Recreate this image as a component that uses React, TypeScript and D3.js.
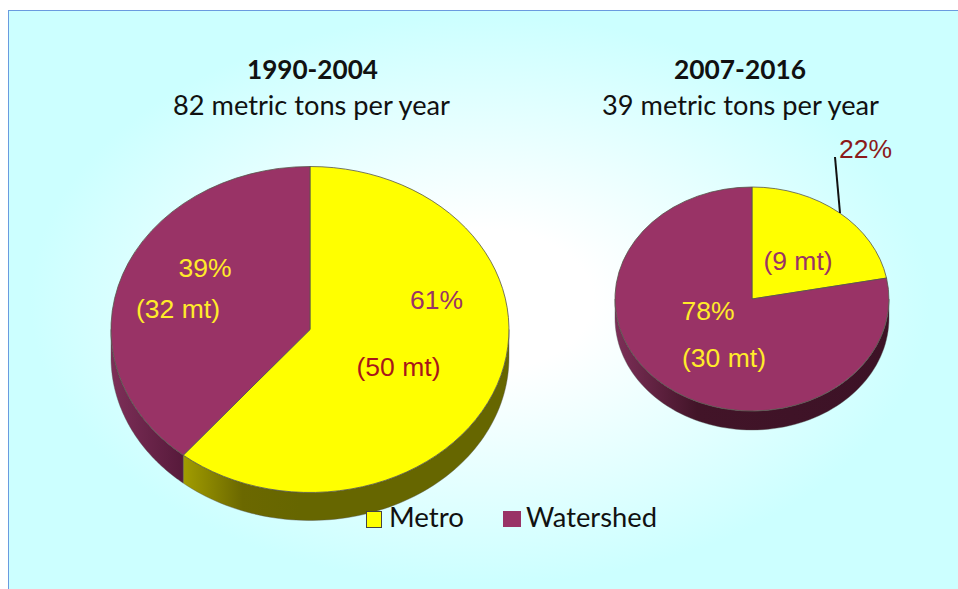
import React from "react";
import * as d3 from "d3";

const categories = ["Metro", "Watershed"];
const colors = ["#ffff00", "#993366"];
const period1Values = [61, 39];
const period2Values = [22, 78];
const titles = ["1990-2004", "2007-2016"];
const subtitles = ["82 metric tons per year", "39 metric tons per year"];

type Pie = { cx: number; cy: number; rx: number; ry: number; depth: number; values: number[]; id: string };
const pies: Pie[] = [
  { id: "a", cx: 310, cy: 329.5, rx: 199, ry: 163, depth: 28, values: period1Values },
  { id: "b", cx: 752, cy: 299, rx: 137, ry: 112, depth: 19, values: period2Values },
];

const layout = d3.pie<number>().sort(null).startAngle(0).endAngle(2 * Math.PI);

function wallPath(p: Pie, a0: number, a1: number): string | null {
  const s = Math.max(a0, Math.PI / 2);
  const e = Math.min(a1, (3 * Math.PI) / 2);
  if (e <= s) return null;
  const n = 80;
  const angles = d3.range(n + 1).map((i) => s + ((e - s) * i) / n);
  const top: [number, number][] = angles.map((t) => [p.cx + p.rx * Math.sin(t), p.cy - p.ry * Math.cos(t)]);
  const bottom: [number, number][] = angles
    .slice()
    .reverse()
    .map((t) => [p.cx + p.rx * Math.sin(t), p.cy - p.ry * Math.cos(t) + p.depth]);
  return (d3.line()([...top, ...bottom]) || "") + "Z";
}

function PieChart({ p }: { p: Pie }) {
  const arcs = layout(p.values);
  const arc = d3.arc<d3.PieArcDatum<number>>().innerRadius(0).outerRadius(1);
  return (
    <g>
      {arcs.map((a, i) => {
        const d = wallPath(p, a.startAngle, a.endAngle);
        return d ? (
          <path key={i} d={d} fill={`url(#wall-${p.id}-${i})`} stroke="#555" strokeWidth={0.4} />
        ) : null;
      })}
      <g transform={`translate(${p.cx},${p.cy}) scale(${p.rx},${p.ry})`}>
        {arcs.map((a, i) => (
          <path
            key={i}
            d={arc(a) || ""}
            fill={colors[i]}
            stroke="#55554a"
            strokeWidth={0.8}
            vectorEffect="non-scaling-stroke"
          />
        ))}
      </g>
    </g>
  );
}

const labelFont = "'Liberation Sans', Arial, sans-serif";
const titleFont = "Lato, 'Open Sans', sans-serif";

export default function App() {
  return (
    <svg
      width={958}
      height={589}
      style={{ position: "absolute", left: 0, top: 0, display: "block" }}
    >
      <defs>
        <radialGradient id="bg" gradientUnits="userSpaceOnUse" cx={480} cy={300} r={1} gradientTransform="translate(480 300) scale(450 285) translate(-480 -300)">
          <stop offset="0" stopColor="#ffffff" />
          <stop offset="0.25" stopColor="#ffffff" />
          <stop offset="1" stopColor="#ccffff" />
        </radialGradient>
        <linearGradient id="wall-a-0" gradientUnits="userSpaceOnUse" x1={185} x2={300} y1={0} y2={0}>
          <stop offset="0" stopColor="#a09b00" />
          <stop offset="0.5" stopColor="#6b6800" />
          <stop offset="1" stopColor="#666600" />
        </linearGradient>
        <linearGradient id="wall-a-1" gradientUnits="userSpaceOnUse" x1={111} x2={185} y1={0} y2={0}>
          <stop offset="0" stopColor="#7d2f58" />
          <stop offset="1" stopColor="#56193a" />
        </linearGradient>
        <linearGradient id="wall-b-0" gradientUnits="userSpaceOnUse" x1={752} x2={889} y1={0} y2={0}>
          <stop offset="0" stopColor="#666600" />
          <stop offset="1" stopColor="#666600" />
        </linearGradient>
        <linearGradient id="wall-b-1" gradientUnits="userSpaceOnUse" x1={615} x2={889} y1={0} y2={0}>
          <stop offset="0" stopColor="#7d2f58" />
          <stop offset="0.3" stopColor="#421428" />
          <stop offset="1" stopColor="#3c1226" />
        </linearGradient>
      </defs>

      <rect x={8.5} y={10.5} width={960} height={590} fill="url(#bg)" stroke="#6a9bdf" strokeWidth={1} />

      {pies.map((p) => (
        <PieChart key={p.id} p={p} />
      ))}

      <g fontFamily={titleFont} fill="#111" textAnchor="middle">
        <text x={312.5} y={79} fontSize={27} fontWeight={700} textLength={131} lengthAdjust="spacingAndGlyphs">{titles[0]}</text>
        <text x={311.5} y={115} fontSize={27} textLength={277} lengthAdjust="spacingAndGlyphs">{subtitles[0]}</text>
        <text x={740} y={79} fontSize={27} fontWeight={700} textLength={132} lengthAdjust="spacingAndGlyphs">{titles[1]}</text>
        <text x={740.5} y={115} fontSize={27} textLength={277} lengthAdjust="spacingAndGlyphs">{subtitles[1]}</text>
      </g>

      <g fontFamily={labelFont} fontSize={26.5}>
        <text x={205} y={277} fill="#ffeb2a" textAnchor="middle">{`${period1Values[1]}%`}</text>
        <text x={178} y={318} fill="#ffeb2a" textAnchor="middle">(32 mt)</text>
        <text x={436.5} y={309} fill="#993366" textAnchor="middle">{`${period1Values[0]}%`}</text>
        <text x={398.5} y={376} fill="#a8161a" textAnchor="middle">(50 mt)</text>
        <text x={865.5} y={158} fill="#8b1a1a" textAnchor="middle">{`${period2Values[0]}%`}</text>
        <text x={798} y={270} fill="#993366" textAnchor="middle">(9 mt)</text>
        <text x={708} y={320} fill="#ffeb2a" textAnchor="middle">{`${period2Values[1]}%`}</text>
        <text x={724} y={367} fill="#ffeb2a" textAnchor="middle">(30 mt)</text>
      </g>
      <line x1={835} y1={157} x2={840} y2={213} stroke="#111" strokeWidth={2} />

      <g fontFamily={titleFont} fontSize={27} fill="#111">
        <rect x={366.5} y={511.5} width={15} height={16} fill={colors[0]} stroke="#444" strokeWidth={1} />
        <text x={389} y={527} textLength={75} lengthAdjust="spacingAndGlyphs">{categories[0]}</text>
        <rect x={503} y={511} width={18} height={16} fill={colors[1]} />
        <text x={526} y={527} textLength={131} lengthAdjust="spacingAndGlyphs">{categories[1]}</text>
      </g>
    </svg>
  );
}
